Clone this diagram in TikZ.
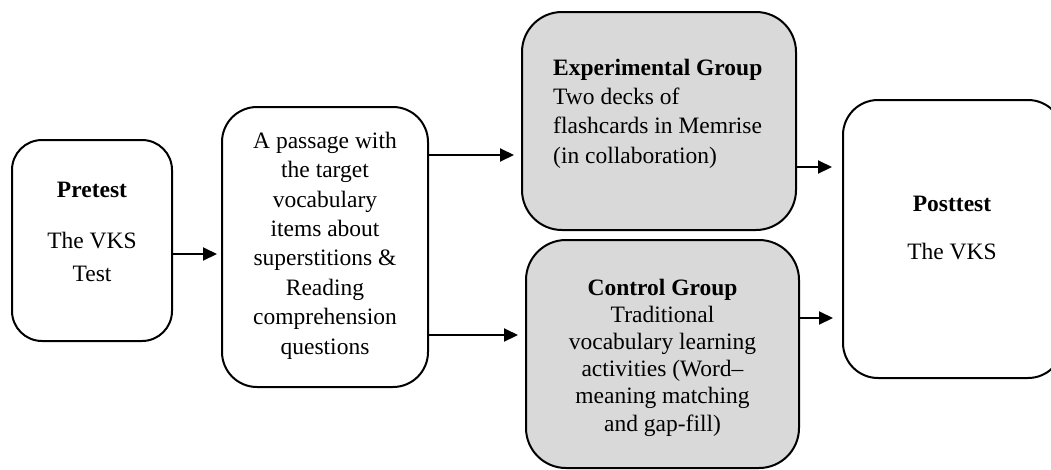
\documentclass[tikz,border=0pt]{standalone}
\usepackage{fontspec}
\setmainfont{Liberation Serif}
\usetikzlibrary{arrows.meta}
\definecolor{boxgray}{RGB}{217,217,217}
\tikzset{
  stagebox/.style={draw=black, line width=2pt, rounded corners=#1, inner sep=0pt},
  stagebox/.default=35pt,
  txt/.style={inner sep=0pt, align=center, font=\fontsize{23.5}{29.4}\selectfont},
  arr/.style={line width=2pt, -{Triangle[length=14pt,width=13pt]}}
}
\begin{document}
\begin{tikzpicture}[x=1pt,y=-1pt]
\useasboundingbox (0,0) rectangle (1051,469);
\clip (0,0) rectangle (1051,469);
% boxes
\node[stagebox=30pt, minimum width=160pt, minimum height=201pt] (pre) at (92,240.5) {};
\node[stagebox=35pt, minimum width=206pt, minimum height=280pt] (passage) at (325,247) {};
\node[stagebox=40pt, fill=boxgray, minimum width=274pt, minimum height=218pt] (exp) at (659,121) {};
\node[stagebox=40pt, fill=boxgray, minimum width=273pt, minimum height=228pt] (ctrl) at (662.5,354) {};
\node[stagebox=35pt, minimum width=220pt, minimum height=278pt] (post) at (953,239) {};
% texts
\node[txt] (pret) at (92,232.2) {\textbf{Pretest}\\[21.6pt]The VKS\\[3.6pt]Test};
\node[txt] (passt) at (325,245.6) {A passage with\\the target\\vocabulary\\items about\\superstitions \&\\Reading\\comprehension\\questions};
\node[txt, align=left, anchor=west] (expt) at (553,113.5) {\textbf{Experimental Group}\\Two decks of\\flashcards in Memrise\\(in collaboration)};
\node[txt, font=\fontsize{23.5}{27.2}\selectfont] (ctrlt) at (662.5,357.5) {\textbf{Control Group}\\Traditional\\vocabulary learning\\activities (Word--\\meaning matching\\and gap-fill)};
\node[txt] (postt) at (952,228.2) {\textbf{Posttest}\\[18.6pt]The VKS};
% connectors
\draw[arr, shorten >=4pt] (pre.east |- 0,254) -- (passage.west |- 0,254);
\draw[arr, shorten >=7pt] (passage.east |- 0,155) -- (exp.west |- 0,155);
\draw[arr, shorten >=7pt] (passage.east |- 0,335) -- (ctrl.west |- 0,335);
\draw[arr, shorten >=10pt] (exp.east |- 0,167) -- (post.west |- 0,167);
\draw[arr, shorten >=9pt] (ctrl.east |- 0,318) -- (post.west |- 0,318);
\end{tikzpicture}
\end{document}
